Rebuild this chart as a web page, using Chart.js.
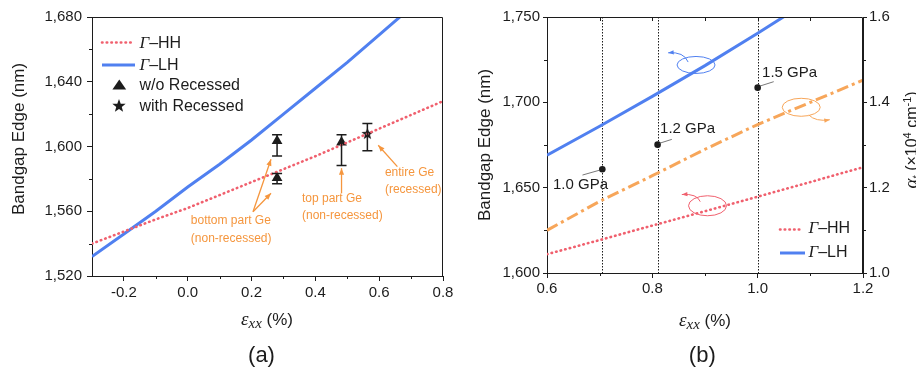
<!DOCTYPE html>
<html>
<head>
<meta charset="utf-8">
<script src="https://cdn.jsdelivr.net/npm/chart.js@4.4.0/dist/chart.umd.min.js"></script>
<style>
  html, body { margin: 0; padding: 0; background: #fff; }
  #wrap { position: relative; width: 916px; height: 375px; overflow: hidden; }
  #chartA { position: absolute; left: 0; top: 0; }
  #chartB { position: absolute; left: 460px; top: 0; }
</style>
</head>
<body>
<div id="wrap">
  <canvas id="chartA" width="460" height="375"></canvas>
  <canvas id="chartB" width="456" height="375"></canvas>
</div>
<script>
// ---- panel (a): bandgap edge vs strain ----
const strainA = [-0.3, -0.2, -0.1, 0.0, 0.1, 0.2, 0.3, 0.4, 0.5, 0.6, 0.7, 0.8];
const hhA = [1540, 1547.5, 1555, 1562, 1570, 1578, 1586, 1594, 1602.5, 1611, 1619.5, 1628];
const lhA = [1532, 1546, 1560, 1575, 1589, 1604, 1620, 1636, 1652, 1669, 1686, 1703];

// measured points (w/o recessed, with recessed) and their error ranges
const triX = [0.28, 0.28, 0.482];
const triY = [1603.5, 1580.6, 1602.6];
const triLo = [1594.2, 1577, 1588.2];
const triHi = [1607.2, 1583.3, 1607.2];
const starX = [0.563];
const starY = [1608];
const starLo = [1597.3];
const starHi = [1614.2];

const xTicksA = [-0.2, 0.0, 0.2, 0.4, 0.6, 0.8];
const xMinorA = [-0.1, 0.1, 0.3, 0.5, 0.7];
const yTicksA = [1520, 1560, 1600, 1640, 1680];
const yMinorA = [1540, 1580, 1620, 1660];

// ---- panel (b): bandgap edge + absorption vs strain ----
const strainB = [0.6, 0.7, 0.8, 0.9, 1.0, 1.1, 1.2];
const hhB = [1611, 1619.3, 1627.8, 1636.2, 1644.7, 1653.3, 1662];
const lhB = [1669, 1686, 1703.5, 1721.5, 1740.5, 1760, 1780];
const alphaB = [1.10, 1.168, 1.228, 1.29, 1.348, 1.40, 1.452];

const pressureX = [0.705, 0.81, 1.0];
const pressureY = [1660.8, 1675.2, 1708.6];
const pressureLabels = ['1.0 GPa', '1.2 GPa', '1.5 GPa'];

const xTicksB = [0.6, 0.8, 1.0, 1.2];
const xMinorB = [0.7, 0.9, 1.1];
const yTicksB = [1600, 1650, 1700, 1750];
const yMinorB = [1625, 1675, 1725];
const y1TicksB = [1.0, 1.2, 1.4, 1.6];
const y1MinorB = [1.1, 1.3, 1.5];

const INK = '#1c1c1c';
const SANS = "'Liberation Sans', Arial, sans-serif";
const SERIF = "'Liberation Serif', 'DejaVu Serif', serif";
const RED = '#f0606e';
const BLUE = '#5080f0';
const ORANGE = '#f7a65a';
const NOTE = '#f5963e';

Chart.defaults.font.family = SANS;
Chart.defaults.color = INK;

function toXY(xs, ys) {
    return xs.map((x, i) => ({ x: x, y: ys[i] }));
}

function starPath(g, cx, cy, R, r) {
    g.beginPath();
    for (let i = 0; i < 10; i++) {
        const rad = i % 2 ? r : R;
        const ang = -Math.PI / 2 + i * Math.PI / 5;
        const px = cx + rad * Math.cos(ang);
        const py = cy + rad * Math.sin(ang);
        if (i) g.lineTo(px, py); else g.moveTo(px, py);
    }
    g.closePath();
}

function starCanvas(R) {
    const c = document.createElement('canvas');
    c.width = c.height = Math.ceil(R * 2 + 2);
    const g = c.getContext('2d');
    starPath(g, c.width / 2, c.height / 2 + 0.5, R, R * 0.42);
    g.fillStyle = INK;
    g.fill();
    return c;
}

function arrowHead(ctx, x2, y2, ang, head, color) {
    ctx.fillStyle = color;
    ctx.beginPath();
    ctx.moveTo(x2, y2);
    ctx.lineTo(x2 - head * Math.cos(ang - 0.38), y2 - head * Math.sin(ang - 0.38));
    ctx.lineTo(x2 - head * Math.cos(ang + 0.38), y2 - head * Math.sin(ang + 0.38));
    ctx.closePath();
    ctx.fill();
}

function arrow(ctx, x1, y1, x2, y2, color) {
    ctx.strokeStyle = color;
    ctx.lineWidth = 1.3;
    ctx.beginPath();
    ctx.moveTo(x1, y1);
    ctx.lineTo(x2, y2);
    ctx.stroke();
    arrowHead(ctx, x2, y2, Math.atan2(y2 - y1, x2 - x1), 7, color);
}

// ellipse with a curved tail arrow pointing to the axis it belongs to
function loopArrow(ctx, cx, cy, rx, ry, x1, y1, qx, qy, x2, y2, color) {
    ctx.strokeStyle = color;
    ctx.lineWidth = 1;
    ctx.beginPath();
    ctx.ellipse(cx, cy, rx, ry, 0, 0, Math.PI * 2);
    ctx.stroke();
    ctx.beginPath();
    ctx.moveTo(x1, y1);
    ctx.quadraticCurveTo(qx, qy, x2, y2);
    ctx.stroke();
    arrowHead(ctx, x2, y2, Math.atan2(y2 - qy, x2 - qx), 6, color);
}

function richText(ctx, parts, x, y, align) {
    let w = 0;
    parts.forEach(p => { ctx.font = p[1]; w += ctx.measureText(p[0]).width; });
    let cx = align === 'center' ? x - w / 2 : x;
    ctx.textAlign = 'left';
    ctx.textBaseline = 'alphabetic';
    parts.forEach(p => {
        ctx.font = p[1];
        ctx.fillText(p[0], cx, y + (p[2] || 0));
        cx += ctx.measureText(p[0]).width;
    });
}

function minorTicks(ctx, scale, values, side, len) {
    ctx.strokeStyle = INK;
    ctx.lineWidth = 1;
    ctx.beginPath();
    values.forEach(v => {
        const p = Math.round(scale.getPixelForValue(v)) + 0.5;
        if (side === 'bottom') { ctx.moveTo(p, scale.top); ctx.lineTo(p, scale.top + len); }
        if (side === 'top') { ctx.moveTo(p, scale.chart.chartArea.top); ctx.lineTo(p, scale.chart.chartArea.top + len); }
        if (side === 'left') { ctx.moveTo(scale.right, p); ctx.lineTo(scale.right - len, p); }
        if (side === 'right') { ctx.moveTo(scale.left, p); ctx.lineTo(scale.left + len, p); }
    });
    ctx.stroke();
}

function errorBars(ctx, x, y, xs, lo, hi) {
    ctx.strokeStyle = INK;
    ctx.lineWidth = 1.5;
    xs.forEach((v, i) => {
        const px = x.getPixelForValue(v);
        const p1 = y.getPixelForValue(lo[i]);
        const p2 = y.getPixelForValue(hi[i]);
        ctx.beginPath();
        ctx.moveTo(px, p1); ctx.lineTo(px, p2);
        ctx.moveTo(px - 5, p1); ctx.lineTo(px + 5, p1);
        ctx.moveTo(px - 5, p2); ctx.lineTo(px + 5, p2);
        ctx.stroke();
    });
}

function frame(ctx, a) {
    ctx.strokeStyle = INK;
    ctx.lineWidth = 1;
    ctx.beginPath();
    ctx.moveTo(a.left, a.top + 0.5);
    ctx.lineTo(a.right - 0.5, a.top + 0.5);
    ctx.lineTo(a.right - 0.5, a.bottom);
    ctx.stroke();
}

function rotatedTitle(ctx, text, x, y, size) {
    ctx.save();
    ctx.translate(x, y);
    ctx.rotate(-Math.PI / 2);
    ctx.font = size + 'px ' + SANS;
    ctx.fillStyle = INK;
    ctx.textAlign = 'center';
    ctx.textBaseline = 'middle';
    ctx.fillText(text, 0, 0);
    ctx.restore();
}

function legendLine(ctx, x1, x2, y, color, dash, width, cap) {
    ctx.strokeStyle = color;
    ctx.lineWidth = width;
    ctx.lineCap = cap || 'butt';
    ctx.setLineDash(dash);
    ctx.beginPath();
    ctx.moveTo(x1, y);
    ctx.lineTo(x2, y);
    ctx.stroke();
    ctx.setLineDash([]);
    ctx.lineCap = 'butt';
}

function gammaLabel(ctx, x, y, band) {
    ctx.fillStyle = INK;
    richText(ctx, [['Γ', 'italic 17px ' + SERIF], ['–' + band, '16px ' + SANS]], x, y, 'left');
}

function epsTitle(ctx, cx, baseline) {
    ctx.fillStyle = INK;
    richText(ctx, [['ε', 'italic 19px ' + SERIF], ['xx', 'italic 15px ' + SERIF, 3], [' (%)', '17px ' + SANS]], cx, baseline, 'center');
}

function commaFmt(v) {
    return Number(v).toLocaleString('en-US');
}

const plotA = {
    id: 'plotA',
    afterDatasetsDraw(chart) {
        const { ctx, chartArea: a, scales: { x, y } } = chart;
        ctx.save();
        frame(ctx, a);
        minorTicks(ctx, x, xMinorA, 'bottom', 3);
        minorTicks(ctx, y, yMinorA, 'left', 3);
        errorBars(ctx, x, y, triX, triLo, triHi);
        errorBars(ctx, x, y, starX, starLo, starHi);

        const X = v => x.getPixelForValue(v);
        const Y = v => y.getPixelForValue(v);

        // annotations
        ctx.fillStyle = NOTE;
        ctx.font = '12px ' + SANS;
        ctx.textAlign = 'left';
        ctx.textBaseline = 'middle';
        ctx.fillText('bottom part Ge', X(0.0096), Y(1554));
        ctx.fillText('(non-recessed)', X(0.0096), Y(1543.3));
        ctx.fillText('top part Ge', X(0.358), Y(1567.6));
        ctx.fillText('(non-recessed)', X(0.358), Y(1557.1));
        ctx.fillText('entire Ge', X(0.618), Y(1583.9));
        ctx.fillText('(recessed)', X(0.618), Y(1573.2));
        arrow(ctx, X(0.2046), Y(1559.7), X(0.261), Y(1592.1), NOTE);
        arrow(ctx, X(0.2046), Y(1559.7), X(0.261), Y(1571.1), NOTE);
        arrow(ctx, X(0.482), Y(1571.1), X(0.482), Y(1586.6), NOTE);
        arrow(ctx, X(0.657), Y(1587.6), X(0.597), Y(1600.8), NOTE);

        // legend
        legendLine(ctx, 102, 134, 42.5, RED, [0.5, 4.2], 2.6, 'round');
        legendLine(ctx, 102, 135, 65, BLUE, [], 3);
        gammaLabel(ctx, 139.5, 47.8, 'HH');
        gammaLabel(ctx, 139.5, 69.8, 'LH');
        ctx.fillStyle = INK;
        ctx.beginPath();
        ctx.moveTo(119.3, 79.5); ctx.lineTo(126.2, 89.5); ctx.lineTo(112.4, 89.5);
        ctx.closePath(); ctx.fill();
        starPath(ctx, 119, 106, 7, 2.9); ctx.fill();
        ctx.font = '16px ' + SANS;
        ctx.textAlign = 'left';
        ctx.textBaseline = 'alphabetic';
        ctx.fillText('w/o Recessed', 139.5, 90);
        ctx.fillText('with Recessed', 139.5, 111);

        // titles
        rotatedTitle(ctx, 'Bandgap Edge (nm)', 19, 139, 17);
        epsTitle(ctx, 267, 325);
        ctx.fillStyle = INK;
        ctx.font = '22px ' + SANS;
        ctx.textAlign = 'center';
        ctx.fillText('(a)', 261.5, 362);
        ctx.restore();
    }
};

const plotB = {
    id: 'plotB',
    beforeDatasetsDraw(chart) {
        const { ctx, chartArea: a, scales: { x } } = chart;
        ctx.save();
        ctx.strokeStyle = INK;
        ctx.lineWidth = 1;
        ctx.setLineDash([1.5, 1.5]);
        pressureX.forEach(v => {
            const px = Math.round(x.getPixelForValue(v)) + 0.5;
            ctx.beginPath();
            ctx.moveTo(px, a.top);
            ctx.lineTo(px, a.bottom);
            ctx.stroke();
        });
        ctx.restore();
    },
    afterDatasetsDraw(chart) {
        const { ctx, chartArea: a, scales: { x, y, y1 } } = chart;
        ctx.save();
        frame(ctx, a);
        minorTicks(ctx, x, xMinorB, 'bottom', 3);
        minorTicks(ctx, x, [0.7, 0.8, 0.9, 1.0, 1.1], 'top', 4);
        minorTicks(ctx, y, yMinorB, 'left', 3);
        minorTicks(ctx, y1, y1MinorB, 'right', 3);

        const X = v => x.getPixelForValue(v);
        const Y = v => y.getPixelForValue(v);

        // pressure labels with leader lines
        const labelPos = [[0.6114, 1651.6], [0.8147, 1684.4], [1.0084, 1717.4]];
        const leaders = [[0.6674, 1657.4, 0.7004, 1660.3], [0.8135, 1676.0, 0.837, 1678.3], [1.005, 1709.6, 1.0305, 1712.1]];
        ctx.fillStyle = INK;
        ctx.font = '15px ' + SANS;
        ctx.textAlign = 'left';
        ctx.textBaseline = 'middle';
        pressureLabels.forEach((t, i) => {
            ctx.fillText(t, X(labelPos[i][0]), Y(labelPos[i][1]));
        });
        ctx.strokeStyle = '#555';
        ctx.lineWidth = 0.8;
        leaders.forEach(l => {
            ctx.beginPath();
            ctx.moveTo(X(l[0]), Y(l[1]));
            ctx.lineTo(X(l[2]), Y(l[3]));
            ctx.stroke();
        });

        // axis pointers
        loopArrow(ctx, X(0.883), Y(1721.9), 19, 8.5, X(0.868), Y(1723.6), X(0.86), Y(1729.8), X(0.830), Y(1729.0), BLUE);
        loopArrow(ctx, X(1.0827), Y(1697.1), 19, 9, X(1.097), Y(1692.6), X(1.11), Y(1688.5), X(1.137), Y(1689.8), ORANGE);
        loopArrow(ctx, X(0.9048), Y(1639.4), 19, 10, X(0.891), Y(1641.8), X(0.885), Y(1646.6), X(0.856), Y(1646.0), RED);

        // legend
        legendLine(ctx, 320, 343, 229.5, RED, [0.5, 4.2], 2.6, 'round');
        legendLine(ctx, 320, 345, 253, BLUE, [], 3);
        gammaLabel(ctx, 348.5, 233, 'HH');
        gammaLabel(ctx, 348.5, 257, 'LH');

        // titles
        rotatedTitle(ctx, 'Bandgap Edge (nm)', 25, 145, 17);
        epsTitle(ctx, 245, 326);
        ctx.fillStyle = INK;
        ctx.font = '22px ' + SANS;
        ctx.textAlign = 'center';
        ctx.textBaseline = 'alphabetic';
        ctx.fillText('(b)', 242.3, 362);

        ctx.save();
        ctx.translate(451, 140);
        ctx.rotate(-Math.PI / 2);
        ctx.fillStyle = INK;
        richText(ctx, [
            ['α', 'italic 19px ' + SERIF],
            ['t', 'italic 12px ' + SERIF, 3],
            [' (×10', '16px ' + SANS],
            ['4', '11px ' + SANS, -6],
            [' cm', '16px ' + SANS],
            ['-1', '11px ' + SANS, -6],
            [')', '16px ' + SANS]
        ], 0, 6, 'center');
        ctx.restore();
        ctx.restore();
    }
};

function linearAxis(opts) {
    return {
        type: 'linear',
        position: opts.position,
        min: opts.min,
        max: opts.max,
        afterBuildTicks: s => { s.ticks = opts.ticks.map(v => ({ value: v })); },
        afterFit: s => {
            if (opts.width !== undefined) s.width = opts.width;
            if (opts.height !== undefined) s.height = opts.height;
        },
        ticks: {
            color: INK,
            font: { size: 15 },
            padding: opts.padding,
            maxRotation: 0,
            callback: opts.fmt
        },
        grid: { drawOnChartArea: false, tickLength: opts.tickLength, color: INK, tickColor: INK },
        border: { color: INK, width: 1 }
    };
}

const dotted = { borderColor: RED, borderWidth: 2.6, borderDash: [0.5, 4.2], borderCapStyle: 'round', pointRadius: 0 };

const chartA = new Chart(document.getElementById('chartA'), {
    type: 'scatter',
    data: {
        datasets: [
            Object.assign({ label: 'Γ–HH', data: toXY(strainA, hhA), showLine: true }, dotted),
            {
                label: 'Γ–LH', data: toXY(strainA, lhA), showLine: true,
                borderColor: BLUE, borderWidth: 3, pointRadius: 0
            },
            {
                label: 'w/o Recessed', data: toXY(triX, triY),
                pointStyle: 'triangle', pointRadius: 6.2,
                backgroundColor: INK, borderColor: INK, borderWidth: 0
            },
            {
                label: 'with Recessed', data: toXY(starX, starY),
                pointStyle: starCanvas(6.3), pointRadius: 6
            }
        ]
    },
    options: {
        responsive: false,
        animation: false,
        devicePixelRatio: 1,
        layout: { padding: { left: 0, top: 17, right: 17, bottom: 0 } },
        plugins: { legend: { display: false }, tooltip: { enabled: false } },
        scales: {
            x: linearAxis({ position: 'bottom', min: -0.3, max: 0.8, ticks: xTicksA, height: 99,
                tickLength: 5, padding: 3, fmt: v => v.toFixed(1) }),
            y: linearAxis({ position: 'left', min: 1520, max: 1680, ticks: yTicksA, width: 92,
                tickLength: 5, padding: 5, fmt: commaFmt })
        }
    },
    plugins: [plotA]
});

const chartB = new Chart(document.getElementById('chartB'), {
    type: 'scatter',
    data: {
        datasets: [
            Object.assign({ label: 'Γ–HH', data: toXY(strainB, hhB), showLine: true, yAxisID: 'y' }, dotted),
            {
                label: 'Γ–LH', data: toXY(strainB, lhB), showLine: true, yAxisID: 'y',
                borderColor: BLUE, borderWidth: 3, pointRadius: 0
            },
            {
                label: 'αt', data: toXY(strainB, alphaB), showLine: true, yAxisID: 'y1',
                borderColor: ORANGE, borderWidth: 3, borderDash: [12, 4, 3, 4], pointRadius: 0
            },
            {
                label: 'pressure', data: toXY(pressureX, pressureY), yAxisID: 'y',
                pointRadius: 3.3, backgroundColor: INK, borderColor: INK, borderWidth: 0
            }
        ]
    },
    options: {
        responsive: false,
        animation: false,
        devicePixelRatio: 1,
        layout: { padding: { left: 0, top: 17, right: 0, bottom: 0 } },
        plugins: { legend: { display: false }, tooltip: { enabled: false } },
        scales: {
            x: linearAxis({ position: 'bottom', min: 0.6, max: 1.2, ticks: xTicksB, height: 102,
                tickLength: 5, padding: 2, fmt: v => v.toFixed(1) }),
            y: linearAxis({ position: 'left', min: 1600, max: 1750, ticks: yTicksB, width: 87,
                tickLength: 4, padding: 3, fmt: commaFmt }),
            y1: linearAxis({ position: 'right', min: 1.0, max: 1.6, ticks: y1TicksB, width: 53,
                tickLength: 4, padding: 2, fmt: v => v.toFixed(1) })
        }
    },
    plugins: [plotB]
});
</script>
</body>
</html>
